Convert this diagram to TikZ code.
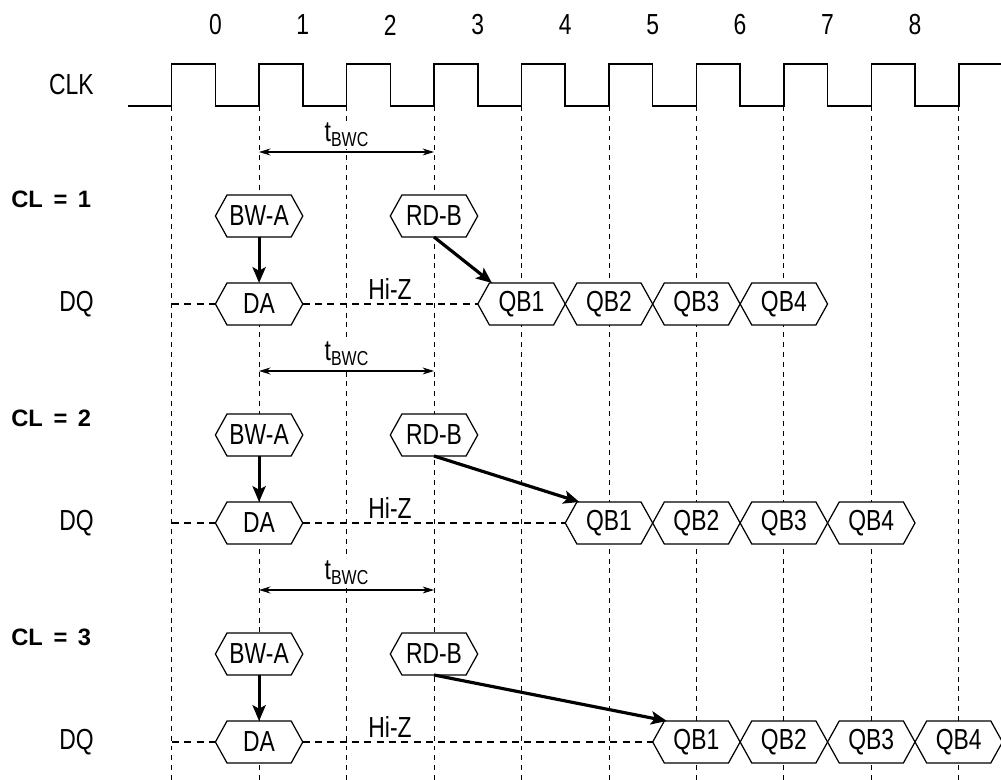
\documentclass[tikz,border=0pt]{standalone}
\usepackage{fontspec}
\setmainfont[FakeStretch=0.79]{Liberation Sans}
\newfontfamily\clfont{Liberation Sans}
\usetikzlibrary{arrows.meta,shapes.symbols,calc}

\tikzset{
  sig/.style={signal, signal to=east and west, signal pointer angle=122,
    draw, fill=white, line width=0.7pt, minimum width=1.749cm,
    minimum height=0.84cm, inner sep=0pt, outer sep=0pt},
  gridline/.style={line width=0.5pt, dash pattern=on 2.8pt off 2.8pt},
  hiz/.style={line width=0.6pt, dash pattern=on 4pt off 3pt},
  cmd/.style={line width=1.8pt, -{Stealth[length=9pt,width=7.5pt,inset=2pt]}},
  tspan/.style={line width=0.6pt,
    {Stealth[length=6.5pt,width=4pt]}-{Stealth[length=6.5pt,width=4pt]}},
  cllabel/.style={anchor=west, inner sep=0pt,
    font=\clfont\bfseries\fontsize{13.5}{16}\selectfont},
}

\begin{document}
\begin{tikzpicture}[x=0.02cm,y=-0.02cm,font=\fontsize{16.5}{19}\selectfont]
  \useasboundingbox (0,0) rectangle (1001,780);

  % clock edges and cycle numbers
  \foreach \k in {0,...,9} {
    \coordinate (e\k) at ({171.7+87.45*\k},106);
    \coordinate (b\k) at ({171.7+87.45*\k},780);
  }
  \foreach \k in {0,...,8}
    \node (n\k) at ({215.4+87.45*\k},25) {\k};
  \node[anchor=east, inner sep=0pt] (clk) at (94,85) {CLK};
  \coordinate (c0) at (128,106);
  \coordinate (c1) at (1001,64);
  \draw[line width=0.9pt] (c0)
    \foreach \k in {0,...,8} { -- (e\k) -- ++(0,-42) -- ++(43.7,0) -- ++(0,42) }
    -- (e9) -- ++(0,-42) -- (c1);
  \foreach \k in {0,...,9}
    \draw[gridline] (e\k) -- (b\k);

  % the three latencies
  \foreach \r/\cl in {0/1,1/2,2/3} {
    \pgfmathsetmacro{\d}{219*\r}
    \node[fill=white, inner sep=1pt] (tb\r) at (346.5,135+\d)
      {t\raisebox{-0.35ex}{\fontsize{11.5}{12}\selectfont BWC}};
    \coordinate (ta\r) at (259.1,152+\d);
    \coordinate (tz\r) at (434,152+\d);
    \draw[tspan] (ta\r) -- (tz\r);

    \node[cllabel] (cl\r) at (11,199+\d) {CL \,=\, \cl};
    \node[anchor=east, inner sep=0pt] (dq\r) at (94,304+\d) {DQ};
    \node[sig] (bw\r) at (259.1,216+\d) {BW-A};
    \node[sig] (da\r) at (259.1,304+\d) {DA};
    \node[sig] (rd\r) at (434,216+\d) {RD-B};
    \foreach \j in {1,...,4}
      \node[sig] (qb\j-\r) at ({171.7+87.45*(3+\r+\j)},304+\d) {QB\j};
    \node (hz\r) at (390,289+\d) {Hi-Z};

    \coordinate (s\r) at (172,304+\d);
    \draw[hiz] (s\r) -- (da\r.west);
    \draw[hiz] (da\r.east) -- (qb1-\r.west);
    \draw[cmd] (bw\r.south) -- (da\r.north);
    \draw[cmd] (rd\r.south) -- ($(qb1-\r.north)+(-29.5,0)$);
  }
\end{tikzpicture}
\end{document}
